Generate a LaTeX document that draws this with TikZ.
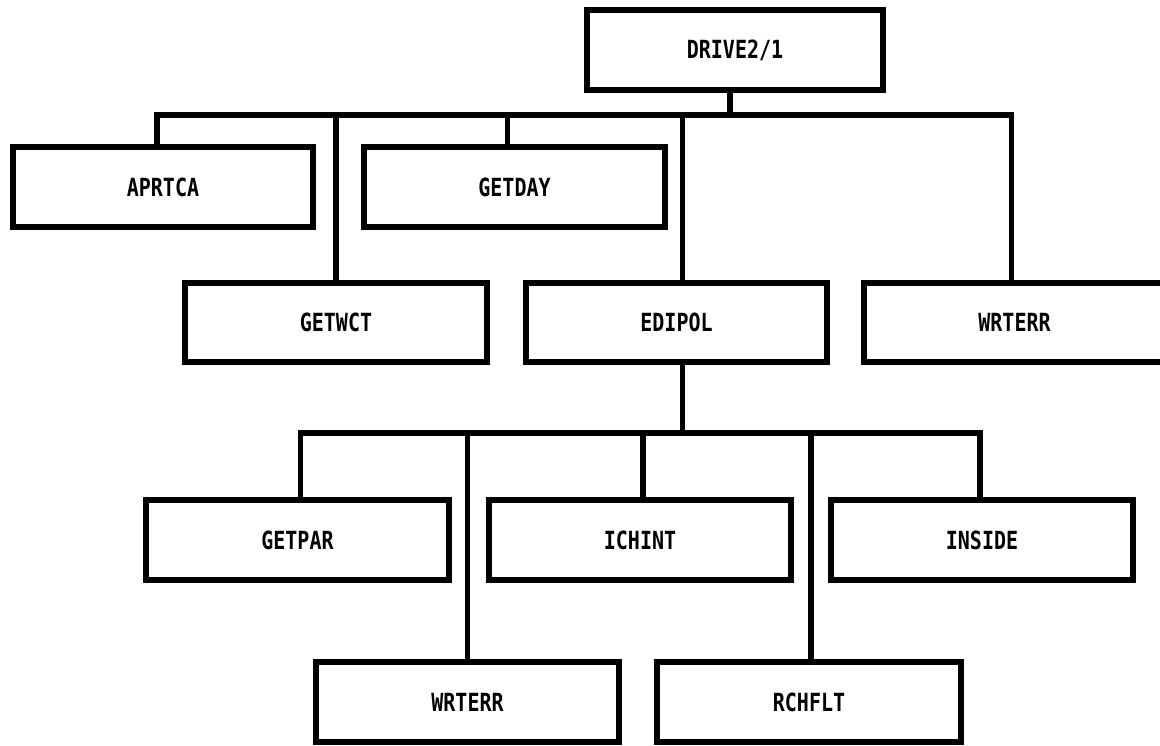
\documentclass[tikz,border=0pt]{standalone}
\usepackage{fontspec}
\newfontfamily\labfont{DejaVu Sans Mono}[FakeStretch=0.8]
\begin{document}
\begin{tikzpicture}[x=1pt,y=-1pt,
  box/.style={draw, line width=5.5pt, minimum width=#1, minimum height=80pt,
    inner sep=0pt, font=\labfont\bfseries\fontsize{25}{25}\selectfont},
  box/.default=301pt,
  wire/.style={line width=5.5pt}]
\useasboundingbox (0,0) rectangle (1160,745);
\fill[white] (0,0) rectangle (1160,745);
% boxes
\node[box=296pt] (D) at (735,50) {DRIVE2/1};
\node[box=300pt] (A) at (163,187) {APRTCA};
\node[box=301pt] (GD) at (514.5,187) {GETDAY};
\node[box=302pt, minimum height=79pt] (GW) at (336,322.5) {GETWCT};
\node[box=301pt, minimum height=79pt] (E) at (676.5,322.5) {EDIPOL};
\node[box=301pt, minimum height=79pt] (W1) at (1014.5,322.5) {WRTERR};
\node[box=303pt] (GP) at (297.5,540) {GETPAR};
\node[box=302pt] (I) at (640,540) {ICHINT};
\node[box=302pt] (IN) at (982,540) {INSIDE};
\node[box=303pt] (W2) at (467.5,702) {WRTERR};
\node[box=304pt] (R) at (809,702) {RCHFLT};
% bus levels
\coordinate (b1) at (0,115);
\coordinate (b2) at (0,433);
% first level
\draw[wire] ([xshift=-5pt]D.south) -- ([xshift=-5pt]D.south |- b1);
\draw[wire] ([xshift=-6pt]A.north) |- ([xshift=-3pt]W1.north |- b1) -- ([xshift=-3pt]W1.north);
\draw[wire] ([xshift=-7pt]GD.north) -- ([xshift=-7pt]GD.north |- b1);
\draw[wire] (GW.north) -- (GW.north |- b1);
\draw[wire] ([xshift=6pt]E.north) -- ([xshift=6pt]E.north |- b1);
% second level
\draw[wire] ([xshift=6pt]E.south) -- ([xshift=6pt]E.south |- b2);
\draw[wire] ([xshift=3pt]GP.north) |- ([xshift=-2pt]IN.north |- b2) -- ([xshift=-2pt]IN.north);
\draw[wire] ([xshift=3pt]I.north) -- ([xshift=3pt]I.north |- b2);
\draw[wire] (W2.north) -- (W2.north |- b2);
\draw[wire] ([xshift=2pt]R.north) -- ([xshift=2pt]R.north |- b2);
\end{tikzpicture}
\end{document}
